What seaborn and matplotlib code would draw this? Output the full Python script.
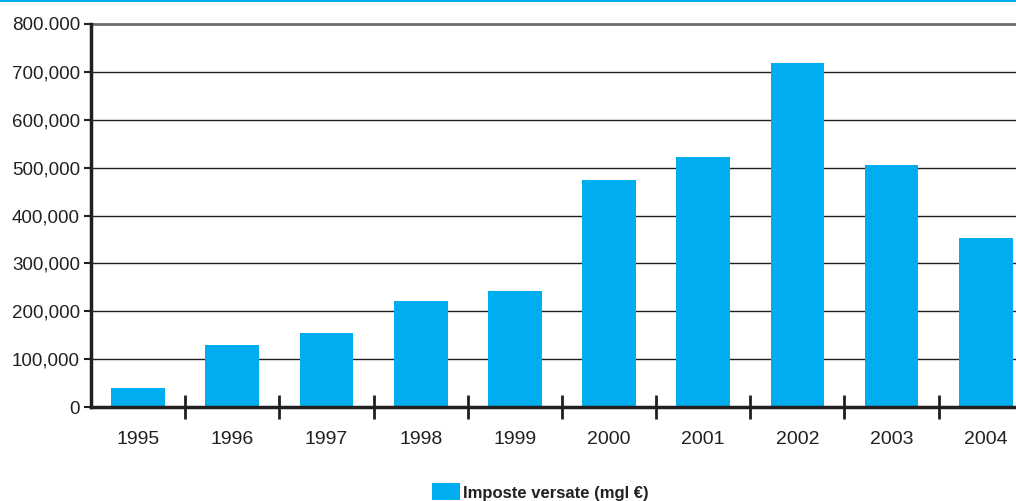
import numpy as np
import pandas as pd
import matplotlib
matplotlib.use('Agg')
import matplotlib.pyplot as plt
import seaborn as sns
from matplotlib.lines import Line2D

# data
years = ['1995', '1996', '1997', '1998', '1999', '2000', '2001', '2002', '2003', '2004']
imposte = [40000, 130000, 155000, 221000, 242000, 475000, 522000, 718000, 505000, 352000]
ytick_vals = [0, 100000, 200000, 300000, 400000, 500000, 600000, 700000, 800000]
ytick_labels = ['0', '100,000', '200,000', '300,000', '400,000', '500,000', '600,000', '700,000', '800.000']
series_name = 'Imposte versate (mgl €)'

df = pd.DataFrame({'anno': years, 'valore': imposte})

sns.set_theme(style='white')
plt.rcParams['font.family'] = ['Liberation Sans', 'DejaVu Sans']

fig = plt.figure(figsize=(10.16, 5.01), dpi=100)
ax = fig.add_axes([0.0896, 0.1876, 0.927, 0.7645])

sns.barplot(data=df, x='anno', y='valore', color='#00AEEF', saturation=1,
            width=0.57, ax=ax, label=series_name, edgecolor='none', linewidth=0)

ax.set_ylim(0, 800000)
ax.set_xlim(-0.5, 9.5)
ax.set_yticks(ytick_vals)
ax.set_yticklabels(ytick_labels, fontsize=13.5, color='#231f20')
ax.tick_params(axis='y', left=True, direction='out', length=5, width=1.5, color='#231f20', pad=3)

# gridlines behind bars
for v in ytick_vals[1:-1]:
    ax.axhline(v, color='#231f20', linewidth=1, zorder=0)
ax.axhline(800000, color='#6d6e71', linewidth=2, zorder=0, clip_on=False)

# category separators on x axis
ax.set_xticks(np.arange(0.5, 9.5, 1.0), minor=True)
ax.tick_params(axis='x', which='minor', bottom=True, direction='inout', length=17, width=2, color='#231f20')
ax.tick_params(axis='x', which='major', bottom=True, length=0, pad=17, labelsize=14, labelcolor='#231f20')
ax.set_xlabel('')
ax.set_ylabel('')

for s in ['top', 'right']:
    ax.spines[s].set_visible(False)
for s in ['left', 'bottom']:
    ax.spines[s].set_color('#231f20')
    ax.spines[s].set_linewidth(2.5)

leg = ax.legend(loc='center', bbox_to_anchor=(0.532, 0.018), bbox_transform=fig.transFigure,
                frameon=False, handlelength=1.65, handleheight=1.2, handletextpad=0.2,
                prop={'weight': 'bold', 'size': 12})
for t in leg.get_texts():
    t.set_color('#231f20')

# thin cyan rule at the very top
fig.add_artist(Line2D([0, 1], [0.998, 0.998], color='#00AEEF', linewidth=1.5,
                      transform=fig.transFigure))

fig.savefig('out.png', dpi=100)
